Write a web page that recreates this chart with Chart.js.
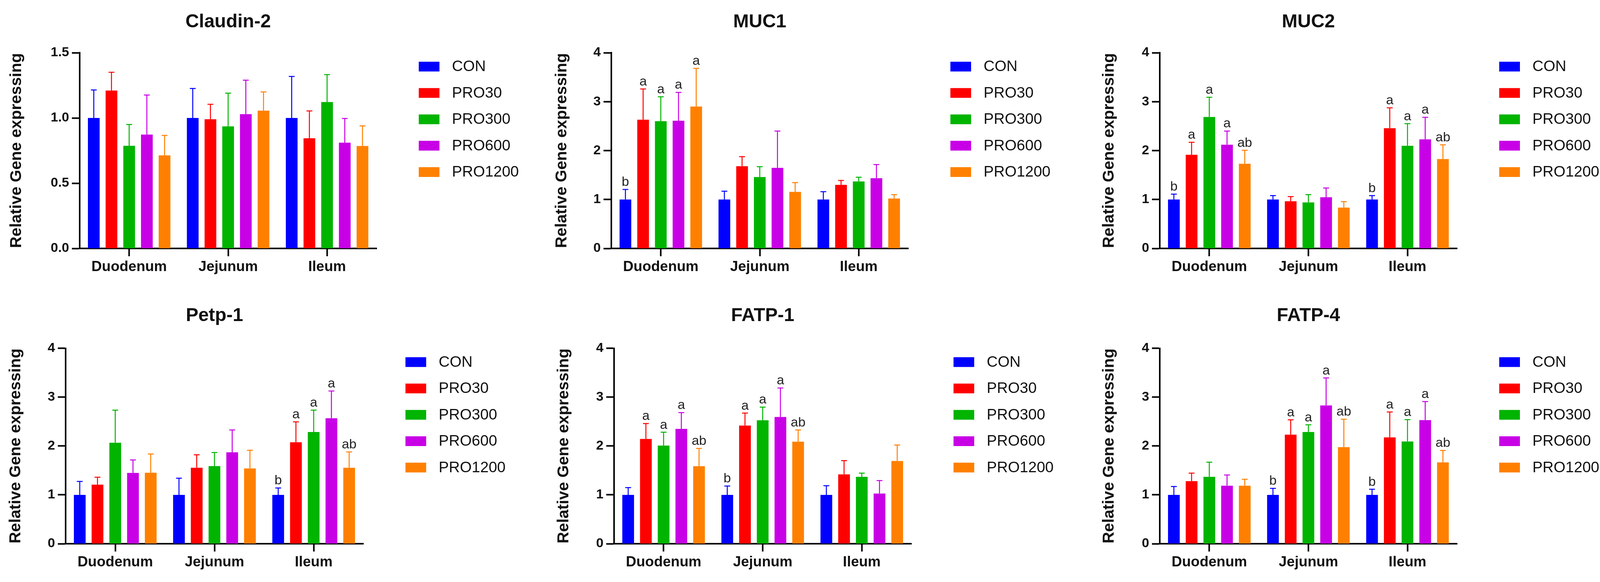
<!DOCTYPE html>
<html>
<head>
<meta charset="utf-8">
<script src="https://cdn.jsdelivr.net/npm/chart.js@4.4.1/dist/chart.umd.min.js"></script>
<style>
html,body{margin:0;padding:0;background:#fff;}
#wrap{position:relative;width:4117px;height:1490px;overflow:hidden;background:#fff;}
canvas{position:absolute;}
</style>
</head>
<body>
<div id="wrap"></div>
<script>
// ---------- DATA ----------
const categories = ['Duodenum', 'Jejunum', 'Ileum'];
const groups = ['CON', 'PRO30', 'PRO300', 'PRO600', 'PRO1200'];
const groupColors = ['#0000FF', '#FF0000', '#00B400', '#C800E6', '#FF8000'];
const yAxisTitle = 'Relative Gene expressing';

// each row = one group (CON..PRO1200), columns = [Duodenum, Jejunum, Ileum]
const claudin2Mean = [[1.00, 1.00, 1.00], [1.21, 0.99, 0.844], [0.787, 0.936, 1.122], [0.873, 1.029, 0.811], [0.713, 1.056, 0.785]];
const claudin2SD   = [[0.215, 0.226, 0.318], [0.14, 0.115, 0.21], [0.163, 0.254, 0.21], [0.303, 0.261, 0.185], [0.153, 0.144, 0.154]];
const claudin2Sig  = [['', '', ''], ['', '', ''], ['', '', ''], ['', '', ''], ['', '', '']];
const claudin2Ticks = ['0.0', '0.5', '1.0', '1.5'];

const muc1Mean = [[1.00, 1.00, 1.00], [2.63, 1.68, 1.30], [2.60, 1.46, 1.37], [2.61, 1.646, 1.435], [2.90, 1.156, 1.02]];
const muc1SD   = [[0.206, 0.17, 0.16], [0.63, 0.196, 0.09], [0.50, 0.21, 0.085], [0.58, 0.754, 0.28], [0.78, 0.19, 0.08]];
const muc1Sig  = [['b', '', ''], ['a', '', ''], ['a', '', ''], ['a', '', ''], ['a', '', '']];

const muc2Mean = [[1.00, 1.00, 1.00], [1.914, 0.965, 2.457], [2.687, 0.94, 2.098], [2.12, 1.045, 2.23], [1.73, 0.834, 1.826]];
const muc2SD   = [[0.11, 0.08, 0.08], [0.256, 0.095, 0.418], [0.403, 0.16, 0.452], [0.28, 0.191, 0.45], [0.276, 0.123, 0.291]];
const muc2Sig  = [['b', '', 'b'], ['a', '', 'a'], ['a', '', 'a'], ['a', '', 'a'], ['ab', '', 'ab']];

const petp1Mean = [[1.00, 1.00, 1.00], [1.209, 1.555, 2.076], [2.065, 1.589, 2.285], [1.449, 1.871, 2.567], [1.452, 1.54, 1.555]];
const petp1SD   = [[0.274, 0.34, 0.14], [0.152, 0.265, 0.418], [0.669, 0.278, 0.449], [0.266, 0.456, 0.558], [0.384, 0.372, 0.323]];
const petp1Sig  = [['', '', 'b'], ['', '', 'a'], ['', '', 'a'], ['', '', 'a'], ['', '', 'ab']];

const fatp1Mean = [[1.00, 1.00, 1.00], [2.144, 2.418, 1.418], [2.008, 2.525, 1.369], [2.35, 2.593, 1.027], [1.586, 2.087, 1.692]];
const fatp1SD   = [[0.148, 0.18, 0.186], [0.316, 0.255, 0.282], [0.273, 0.27, 0.076], [0.334, 0.593, 0.266], [0.364, 0.24, 0.327]];
const fatp1Sig  = [['', 'b', ''], ['a', 'a', ''], ['a', 'a', ''], ['a', 'a', ''], ['ab', 'ab', '']];

const fatp4Mean = [[1.00, 1.00, 1.00], [1.281, 2.232, 2.175], [1.369, 2.285, 2.091], [1.186, 2.829, 2.529], [1.186, 1.977, 1.665]];
const fatp4SD   = [[0.17, 0.133, 0.114], [0.164, 0.304, 0.521], [0.30, 0.148, 0.449], [0.221, 0.563, 0.38], [0.133, 0.571, 0.244]];
const fatp4Sig  = [['', 'b', 'b'], ['', 'a', 'a'], ['', 'a', 'a'], ['', 'a', 'a'], ['', 'ab', 'ab']];

const fourTicks = ['0', '1', '2', '3', '4'];

// ---------- LAYOUT (positions/sizes only) ----------
const FONT = '"Liberation Sans", Arial, Helvetica, sans-serif';
Chart.defaults.font.family = FONT;

const panels = [
  { title: 'Claudin-2', mean: claudin2Mean, sd: claudin2SD, sig: claudin2Sig, yMax: 1.5, yStep: 0.5, yTicks: claudin2Ticks,
    cv: { left: 0, top: 0, w: 1372, h: 745 }, area: { left: 204, right: 964, top: 135, bottom: 636 }, yTitleX: 43, titleY: 57 },
  { title: 'MUC1', mean: muc1Mean, sd: muc1SD, sig: muc1Sig, yMax: 4, yStep: 1, yTicks: fourTicks,
    cv: { left: 1372, top: 0, w: 1372, h: 745 }, area: { left: 193, right: 953, top: 135, bottom: 636 }, yTitleX: 67, titleY: 57 },
  { title: 'MUC2', mean: muc2Mean, sd: muc2SD, sig: muc2Sig, yMax: 4, yStep: 1, yTicks: fourTicks,
    cv: { left: 2744, top: 0, w: 1373, h: 745 }, area: { left: 225, right: 986, top: 135, bottom: 636 }, yTitleX: 96, titleY: 57 },
  { title: 'Petp-1', mean: petp1Mean, sd: petp1SD, sig: petp1Sig, yMax: 4, yStep: 1, yTicks: fourTicks,
    cv: { left: 0, top: 745, w: 1372, h: 745 }, area: { left: 168, right: 930, top: 146.5, bottom: 647 }, yTitleX: 41, titleY: 64 },
  { title: 'FATP-1', mean: fatp1Mean, sd: fatp1SD, sig: fatp1Sig, yMax: 4, yStep: 1, yTicks: fourTicks,
    cv: { left: 1372, top: 745, w: 1372, h: 745 }, area: { left: 200, right: 961, top: 146.5, bottom: 647 }, yTitleX: 72, titleY: 64 },
  { title: 'FATP-4', mean: fatp4Mean, sd: fatp4SD, sig: fatp4Sig, yMax: 4, yStep: 1, yTicks: fourTicks,
    cv: { left: 2744, top: 745, w: 1373, h: 745 }, area: { left: 225, right: 986, top: 146.5, bottom: 647 }, yTitleX: 96, titleY: 64 }
];

// ---------- PLUGINS ----------
const errorBarPlugin = {
  id: 'errorBars',
  afterDatasetsDraw(chart) {
    const ctx = chart.ctx;
    const yScale = chart.scales.y;
    chart.data.datasets.forEach((ds, i) => {
      const meta = chart.getDatasetMeta(i);
      meta.data.forEach((bar, j) => {
        const topPx = yScale.getPixelForValue(ds.data[j] + ds.errors[j]);
        ctx.save();
        ctx.strokeStyle = ds.backgroundColor;
        ctx.lineWidth = 2.5;
        ctx.beginPath();
        ctx.moveTo(bar.x, bar.y);
        ctx.lineTo(bar.x, topPx);
        ctx.moveTo(bar.x - 7.5, topPx);
        ctx.lineTo(bar.x + 7.5, topPx);
        ctx.stroke();
        const letter = ds.letters[j];
        if (letter) {
          ctx.fillStyle = '#222';
          ctx.font = '34px ' + FONT;
          ctx.textAlign = 'center';
          ctx.textBaseline = 'alphabetic';
          ctx.fillText(letter, bar.x, topPx - 9);
        }
        ctx.restore();
      });
    });
  }
};

const sideLegendPlugin = {
  id: 'sideLegend',
  afterDraw(chart, args, opts) {
    const ctx = chart.ctx;
    const a = chart.chartArea;
    ctx.save();
    chart.data.datasets.forEach((ds, i) => {
      const cy = a.top + opts.firstRow + i * opts.rowGap;
      const x = a.right + opts.gap;
      ctx.fillStyle = ds.backgroundColor;
      ctx.fillRect(x, cy - 12.5, 53, 25);
      ctx.fillStyle = '#111';
      ctx.font = '39px ' + FONT;
      ctx.textAlign = 'left';
      ctx.textBaseline = 'middle';
      ctx.fillText(ds.label, x + 85, cy + 1);
    });
    ctx.restore();
  }
};

// ---------- BUILD ----------
const wrap = document.getElementById('wrap');
panels.forEach(p => {
  const cv = document.createElement('canvas');
  cv.width = p.cv.w; cv.height = p.cv.h;
  cv.style.left = p.cv.left + 'px';
  cv.style.top = p.cv.top + 'px';
  cv.style.width = p.cv.w + 'px';
  cv.style.height = p.cv.h + 'px';
  wrap.appendChild(cv);

  const titleLH = 48 * 1.2;
  const titlePadTop = p.titleY - titleLH / 2;
  const yTitleLH = 41 * 1.2;

  new Chart(cv, {
    type: 'bar',
    data: {
      labels: categories,
      datasets: groups.map((g, k) => ({
        label: g,
        data: p.mean[k],
        errors: p.sd[k],
        letters: p.sig[k],
        backgroundColor: groupColors[k],
        borderWidth: 0,
        categoryPercentage: 0.894,
        barPercentage: 0.662
      }))
    },
    options: {
      responsive: false,
      animation: false,
      devicePixelRatio: 1,
      layout: { padding: { left: 0, top: 0, right: p.cv.w - p.area.right, bottom: p.cv.h - p.area.bottom - 90 } },
      plugins: {
        legend: { display: false },
        tooltip: { enabled: false },
        title: {
          display: true, text: p.title, fullSize: false, color: '#111',
          font: { size: 48, weight: 'bold' },
          padding: { top: titlePadTop, bottom: p.area.top - titlePadTop - titleLH }
        },
        sideLegend: { gap: 108, firstRow: 35.5, rowGap: 67.5 }
      },
      scales: {
        x: {
          grid: { display: true, drawOnChartArea: false, offset: false, drawTicks: true, tickLength: 20, tickWidth: 4, tickColor: '#000' },
          border: { display: true, color: '#000', width: 4 },
          ticks: { padding: 6, color: '#111', font: { size: 37, weight: 'bold' } },
          afterFit(s) { s.height = 90; }
        },
        y: {
          min: 0, max: p.yMax,
          ticks: { stepSize: p.yStep, padding: 7, color: '#111', font: { size: 34, weight: 'bold' },
                   callback: (v, i) => p.yTicks[i] },
          grid: { display: true, drawOnChartArea: false, drawTicks: true, tickLength: 20, tickWidth: 4, tickColor: '#000' },
          border: { display: true, color: '#000', width: 4 },
          title: { display: true, text: yAxisTitle, color: '#111', font: { size: 41, weight: 'bold' },
                   padding: { top: p.yTitleX - yTitleLH / 2, bottom: 0 } },
          afterFit(s) { s.width = p.area.left; }
        }
      }
    },
    plugins: [errorBarPlugin, sideLegendPlugin]
  });
});
</script>
</body>
</html>
